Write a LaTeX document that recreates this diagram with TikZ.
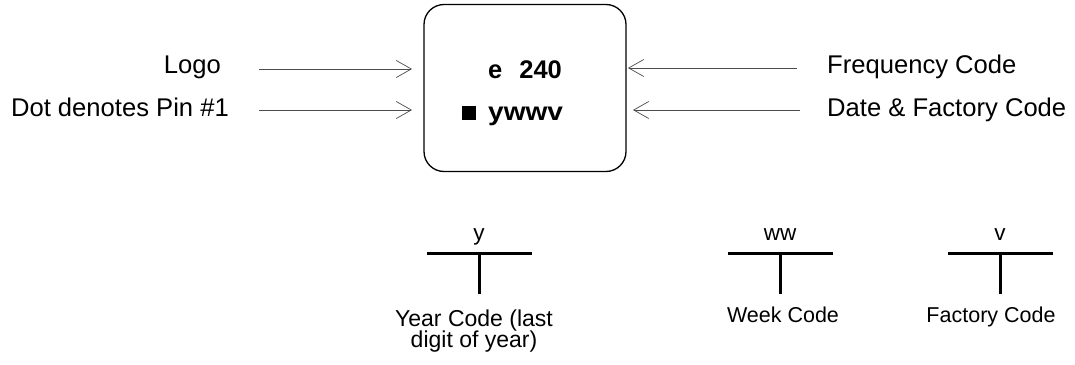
\documentclass[tikz,border=0pt]{standalone}
\usepackage{fontspec}
\setmainfont{Liberation Sans}
\usetikzlibrary{arrows.meta}
\tikzset{
  lbl/.style={inner sep=0pt, font=\fontsize{25.6}{30}\selectfont},
  sub/.style={inner sep=0pt, font=\fontsize{22.5}{26}\selectfont, anchor=base},
  note/.style={inner sep=0pt, font=\fontsize{21.5}{26}\selectfont, anchor=base},
  chiptxt/.style={inner sep=0pt, font=\fontsize{25.5}{30}\selectfont\bfseries, anchor=base west},
  pointer/.style={draw=black!70, line width=0.8pt, -{Straight Barb[length=15pt,width=17pt,line width=0.7pt]}},
  tbar/.style={line width=3pt},
}
\begin{document}
\begin{tikzpicture}[x=1pt,y=-1pt]
\useasboundingbox (0,0) rectangle (1075,364);
% chip
\node (chip) [draw, line width=1.3pt, rounded corners=20pt, minimum width=202pt, minimum height=167pt, inner sep=0pt] at (525,88) {};
\node (l1) [chiptxt] at (488,78.3) {e\hspace{17pt}240};
\node (l2) [chiptxt] at (462,120) {\rule{14pt}{14pt}\hspace{12pt}\scalebox{1.1}[1]{ywwv}};
% labels
\node (logo) [lbl, anchor=base east] at (221,73) {Logo};
\node (dot) [lbl, anchor=base east] at (229,116) {Dot denotes Pin \#1};
\node (freq) [lbl, anchor=base west] at (827,73) {Frequency Code};
\node (date) [lbl, anchor=base west] at (827,116) {Date \& Factory Code};
% arrow ends
\coordinate (a1s) at (259,69);  \coordinate (a1e) at (412,69);
\coordinate (a2s) at (259,110); \coordinate (a2e) at (412,110);
\coordinate (b1s) at (797,68);  \coordinate (b1e) at (628,68);
\coordinate (b2s) at (800,110); \coordinate (b2e) at (633,110);
\draw[pointer] (a1s) -- (a1e);
\draw[pointer] (a2s) -- (a2e);
\draw[pointer] (b1s) -- (b1e);
\draw[pointer] (b2s) -- (b2e);
% T markers
\coordinate (y1) at (427,253); \coordinate (y2) at (532,253);
\coordinate (yt) at (479,253); \coordinate (yb) at (479,294);
\coordinate (w1) at (728,253); \coordinate (w2) at (833,253);
\coordinate (wt) at (780,253); \coordinate (wb) at (780,294);
\coordinate (v1) at (948,253); \coordinate (v2) at (1053,253);
\coordinate (vt) at (1000,253); \coordinate (vb) at (1000,294);
\draw[tbar] (y1) -- (y2); \draw[tbar] (yt) -- (yb);
\draw[tbar] (w1) -- (w2); \draw[tbar] (wt) -- (wb);
\draw[tbar] (v1) -- (v2); \draw[tbar] (vt) -- (vb);
\node (ylab) [sub] at (479,240) {y};
\node (wlab) [sub] at (780,240) {ww};
\node (vlab) [sub] at (1000,240) {v};
\node (yc1) [note, font=\fontsize{23}{26}\selectfont] at (474,326) {Year Code (last};
\node (yc2) [note, font=\fontsize{23}{26}\selectfont] at (474,347) {digit of year)};
\node (wc) [note] at (783,322) {Week Code};
\node (fc) [note] at (991,322) {Factory Code};
\end{tikzpicture}
\end{document}
